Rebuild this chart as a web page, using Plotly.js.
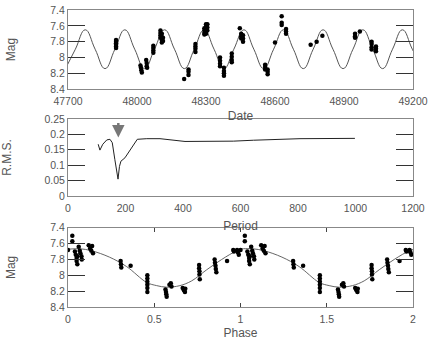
<!DOCTYPE html>
<html>
<head>
<meta charset="utf-8">
<script src="https://cdn.plot.ly/plotly-3.0.1.min.js"></script>
<style>
  body { margin: 0; background: #fff; }
  #plot { width: 436px; height: 340px; }
</style>
</head>
<body>
<div id="plot"></div>
<script>
// Light curve: observed points (Julian date - 2400000, magnitude)
var obsDate = [
  47909, 47909, 47909, 47909, 47909, 47909,
  48015, 48017, 48019, 48021,
  48040, 48042, 48042, 48044,
  48071, 48071, 48071, 48071,
  48102, 48102, 48102, 48102, 48108, 48108, 48108, 48108, 48113, 48113,
  48205,
  48224, 48224, 48224,
  48254, 48254, 48254, 48254,
  48293, 48293, 48293, 48293, 48300, 48300, 48300, 48300, 48300, 48306, 48306, 48306,
  48361, 48361, 48361, 48361,
  48378, 48378, 48378, 48378,
  48412, 48412, 48412, 48412,
  48447,
  48453, 48453, 48453, 48461, 48461, 48461,
  48557, 48557, 48557, 48568, 48568, 48568,
  48600,
  48629, 48629, 48629,
  48648, 48648, 48648,
  48755, 48781, 48806,
  48948, 48948, 48948, 48969,
  49020, 49020, 49020, 49020, 49039, 49039, 49039
];
var obsMag = [
  7.78, 7.80, 7.82, 7.84, 7.86, 7.88,
  8.10, 8.13, 8.16, 8.19,
  8.03, 8.07, 8.11, 8.13,
  7.85, 7.88, 7.91, 7.94,
  7.66, 7.69, 7.72, 7.75, 7.70, 7.74, 7.78, 7.81, 7.75, 7.79,
  8.27,
  8.15, 8.18, 8.22,
  7.83, 7.86, 7.89, 7.93,
  7.63, 7.66, 7.69, 7.71, 7.58, 7.61, 7.64, 7.67, 7.70, 7.58, 7.62, 7.66,
  8.00, 8.04, 8.08, 8.11,
  8.13, 8.17, 8.20, 8.23,
  7.95, 7.99, 8.03, 8.06,
  7.63,
  7.70, 7.73, 7.76, 7.72, 7.76, 7.80,
  8.09, 8.12, 8.15, 8.15, 8.18, 8.21,
  7.81,
  7.48, 7.56, 7.59,
  7.64, 7.67, 7.70,
  7.84, 7.80, 7.725,
  7.70, 7.73, 7.75, 7.67,
  7.80, 7.83, 7.87, 7.90, 7.86, 7.89, 7.92
];

// Fitted periodic curve read at its peaks, troughs and mid points
var fitDate = [
  47689, 47732, 47775, 47818, 47861, 47904, 47947, 47990, 48033, 48076,
  48120, 48163, 48206, 48249, 48292, 48335, 48378, 48421, 48465, 48508,
  48551, 48594, 48637, 48680, 48723, 48766, 48809, 48852, 48896, 48939,
  48982, 49025, 49068, 49111, 49154, 49197, 49241
];
var fitMag = [
  8.14, 7.895, 7.65, 7.895, 8.14, 7.895, 7.65, 7.895, 8.14, 7.895,
  7.65, 7.895, 8.14, 7.895, 7.65, 7.895, 8.14, 7.895, 7.65, 7.895,
  8.14, 7.895, 7.65, 7.895, 8.14, 7.895, 7.65, 7.895, 8.14, 7.895,
  7.65, 7.895, 8.14, 7.895, 7.65, 7.895, 8.14
];

// Periodogram: R.M.S. of residuals vs trial period
var trialPeriod = [105, 111, 121, 135, 146, 154, 163, 174, 179, 184, 198, 221, 241, 274, 320, 407, 471, 575, 645, 749, 807, 998];
var rms = [0.168, 0.149, 0.168, 0.182, 0.184, 0.173, 0.118, 0.055, 0.096, 0.113, 0.124, 0.157, 0.184, 0.186, 0.186, 0.177, 0.177, 0.178, 0.181, 0.185, 0.186, 0.187];
var bestPeriod = 175;

// Phase diagram (one cycle, repeated once)
var phase = [
  0.000, 0.025, 0.025,
  0.040, 0.045, 0.050, 0.050, 0.054, 0.054,
  0.062, 0.068, 0.072, 0.078, 0.080,
  0.120, 0.128, 0.135, 0.140, 0.145,
  0.305, 0.307, 0.309, 0.363,
  0.460, 0.460, 0.460, 0.460, 0.460, 0.460,
  0.565, 0.568, 0.570, 0.572,
  0.588, 0.596, 0.600,
  0.665, 0.672, 0.678, 0.680,
  0.760, 0.760, 0.762, 0.762, 0.764,
  0.850, 0.852, 0.855, 0.857, 0.860,
  0.922, 0.958, 0.962, 0.980, 0.985, 0.990
];
var phaseMag = [
  7.68, 7.50, 7.57,
  7.70, 7.74, 7.78, 7.82, 7.86, 7.76,
  7.64, 7.69, 7.72, 7.76, 7.80,
  7.62, 7.66, 7.69, 7.63, 7.72,
  7.82, 7.86, 7.90, 7.88,
  8.00, 8.04, 8.08, 8.12, 8.16, 8.21,
  8.18, 8.21, 8.24, 8.27,
  8.12, 8.10, 8.14,
  8.16, 8.19, 8.21, 8.17,
  7.87, 7.91, 7.95, 7.99, 8.05,
  7.80, 7.84, 7.88, 7.92, 7.96,
  7.82, 7.68, 7.70, 7.68, 7.71, 7.74
];
var fitPhase = [0, 0.07, 0.137, 0.24, 0.34, 0.456, 0.514, 0.572, 0.649, 0.717, 0.804, 0.891, 0.978, 1.0];
var fitPhaseMag = [7.67, 7.665, 7.69, 7.77, 7.89, 8.09, 8.13, 8.15, 8.13, 8.07, 7.93, 7.80, 7.69, 7.675];

var twoCycles = function (arr) { return arr.concat(arr.map(function (p) { return p + 1; })); };

var dot = { color: "#000", size: 4.5 };

var data = [
  { x: fitDate, y: fitMag, mode: "lines", line: { color: "#555", width: 1, shape: "spline", smoothing: 1.3 }, xaxis: "x", yaxis: "y" },
  { x: obsDate, y: obsMag, mode: "markers", marker: dot, xaxis: "x", yaxis: "y" },
  { x: trialPeriod, y: rms, mode: "lines", line: { color: "#222", width: 1 }, xaxis: "x2", yaxis: "y2" },
  { x: twoCycles(fitPhase), y: fitPhaseMag.concat(fitPhaseMag), mode: "lines", line: { color: "#666", width: 1, shape: "spline" }, xaxis: "x3", yaxis: "y3" },
  { x: twoCycles(phase), y: phaseMag.concat(phaseMag), mode: "markers", marker: dot, xaxis: "x3", yaxis: "y3" }
];

var tickFont = { family: "Liberation Sans, Arial, sans-serif", size: 10.5, color: "#555" };
var titleFont = { family: "Liberation Sans, Arial, sans-serif", size: 12, color: "#555" };

function xAx(range, dtick, title, anchor, ticks, standoff) {
  return {
    range: range, dtick: dtick, anchor: anchor, tickformat: "~g",
    showgrid: false, zeroline: false,
    showline: true, linecolor: "#888", linewidth: 1, mirror: ticks ? "ticks" : true,
    ticks: ticks ? "inside" : "", ticklen: 4, tickcolor: "#444",
    tickfont: tickFont, ticklabelstandoff: 2,
    title: { text: title, font: titleFont, standoff: standoff }
  };
}
function yAx(range, dtick, title, domain, anchor) {
  return {
    range: range, dtick: dtick, domain: domain, anchor: anchor,
    showgrid: false, zeroline: false,
    showline: true, linecolor: "#888", linewidth: 1, mirror: "ticks",
    ticks: "inside", ticklen: 17, tickcolor: "#333", tickwidth: 1,
    tickfont: tickFont,
    title: { text: title, font: titleFont, standoff: 32 }
  };
}

var layout = {
  width: 436, height: 340,
  margin: { l: 68, r: 23, t: 10, b: 33 },
  paper_bgcolor: "#fff", plot_bgcolor: "#fff",
  showlegend: false,
  xaxis: xAx([47700, 49200], 300, "Date", "y", false, 5),
  yaxis: yAx([8.4, 7.4], 0.2, "Mag", [0.7333, 1], "x"),
  xaxis2: xAx([0, 1200], 200, "Period", "y2", false, 8),
  yaxis2: yAx([0, 0.25], 0.05, "R.M.S.", [0.3733, 0.6333], "x2"),
  xaxis3: xAx([0, 2], 0.5, "Phase", "y3", true, 5),
  yaxis3: yAx([8.4, 7.4], 0.2, "Mag", [0, 0.2667], "x3"),
  annotations: [{
    xref: "x2", yref: "y2", x: bestPeriod, y: 0.19,
    ax: 0, ay: -16, text: "", showarrow: true,
    arrowhead: 2, arrowsize: 1, arrowwidth: 2.5, arrowcolor: "#777"
  }]
};

Plotly.newPlot("plot", data, layout, { staticPlot: true, displayModeBar: false });
</script>
</body>
</html>
